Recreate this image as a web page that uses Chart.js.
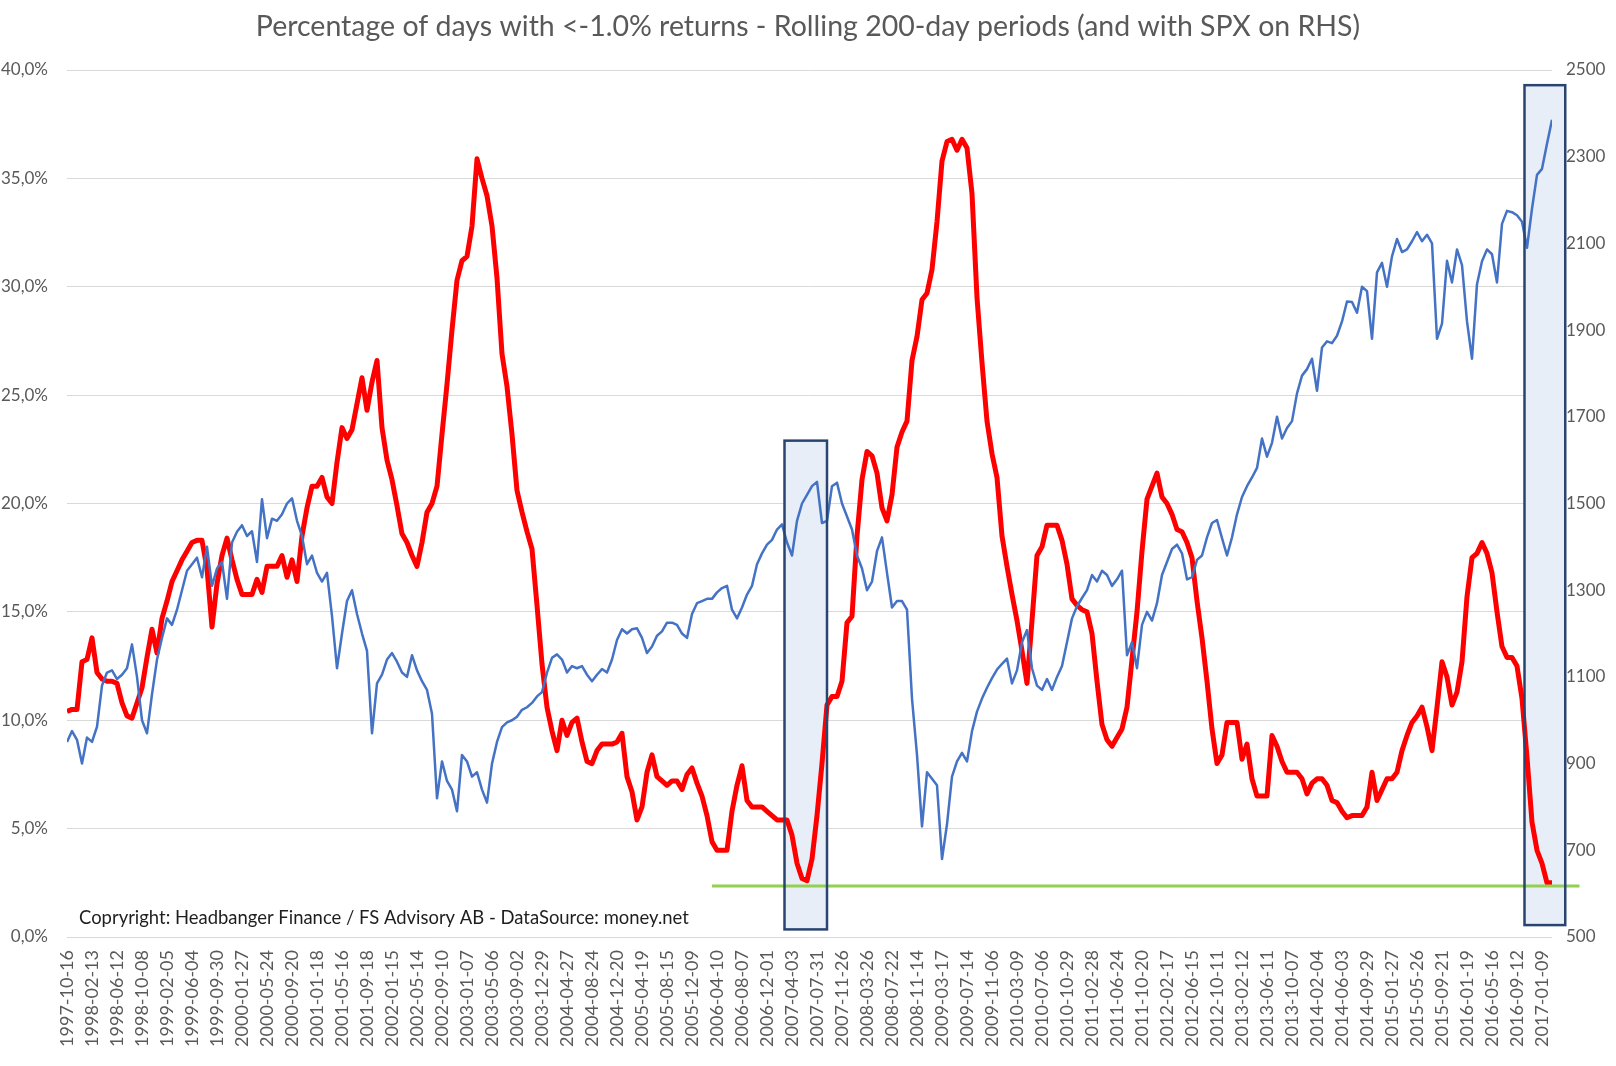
<!DOCTYPE html>
<html><head><meta charset="utf-8">
<script src="https://cdn.jsdelivr.net/npm/chart.js@4.4.1/dist/chart.umd.min.js"></script>
<style>html,body{margin:0;padding:0;background:#fff;}#wrap{width:1616px;height:1066px;}</style>
</head><body><div id="wrap"><canvas id="c" width="1616" height="1066"></canvas></div>
<script>
const titleText = 'Percentage of days with <-1.0% returns - Rolling 200-day periods (and with SPX on RHS)';
const creditText = 'Copryright: Headbanger Finance / FS Advisory AB - DataSource: money.net';

// category tick labels (one every ~82 trading days)
const tickLabels = ['1997-10-16','1998-02-13','1998-06-12','1998-10-08','1999-02-05','1999-06-04','1999-09-30','2000-01-27','2000-05-24','2000-09-20',
'2001-01-18','2001-05-16','2001-09-18','2002-01-15','2002-05-14','2002-09-10','2003-01-07','2003-05-06','2003-09-02','2003-12-29',
'2004-04-27','2004-08-24','2004-12-20','2005-04-19','2005-08-15','2005-12-09','2006-04-10','2006-08-07','2006-12-01','2007-04-03',
'2007-07-31','2007-11-26','2008-03-26','2008-07-22','2008-11-14','2009-03-17','2009-07-14','2009-11-06','2010-03-09','2010-07-06',
'2010-10-29','2011-02-28','2011-06-24','2011-10-20','2012-02-17','2012-06-15','2012-10-11','2013-02-12','2013-06-11','2013-10-07',
'2014-02-04','2014-06-03','2014-09-29','2015-01-27','2015-05-26','2015-09-21','2016-01-19','2016-05-16','2016-09-12','2017-01-09'];

// samples every 1/5 of a tick-label interval
const STEP = 0.2;

// % of days with < -1.0% return, rolling 200 days (left axis)
const redPct = [
10.4,10.5,
10.5,12.7,12.8,13.8,12.2, 11.9,11.8,11.8,11.7,10.8, 10.2,10.1,10.8,11.5,12.9, 14.2,13.1,14.7,15.5,16.4,
16.9,17.4,17.8,18.2,18.3, 18.3,17.0,14.3,16.3,17.6, 18.4,17.4,16.5,15.8,15.8, 15.8,16.5,15.9,17.1,17.1,
17.1,17.6,16.6,17.4,16.4, 18.5,19.8,20.8,20.8,21.2, 20.3,20.0,21.9,23.5,23.0, 23.4,24.6,25.8,24.3,25.6,
26.6,23.5,22.0,21.1,19.9, 18.6,18.2,17.6,17.1,18.2, 19.6,20.0,20.8,23.2,25.5, 28.0,30.3,31.2,31.4,32.8,
35.9,35.0,34.2,32.8,30.4, 26.9,25.4,23.2,20.6,19.6, 18.7,17.9,15.3,12.6,10.6, 9.5,8.6,10.0,9.3,9.9,
10.1,9.0,8.1,8.0,8.6, 8.9,8.9,8.9,9.0,9.4, 7.4,6.7,5.4,6.0,7.6, 8.4,7.4,7.2,7.0,7.2,
7.2,6.8,7.5,7.8,7.1, 6.5,5.6,4.4,4.0,4.0, 4.0,5.8,7.0,7.9,6.3, 6.0,6.0,6.0,5.8,5.6,
5.4,5.4,5.4,4.7,3.4, 2.7,2.6,3.6,5.6,8.0, 10.7,11.1,11.1,11.8,14.5, 14.8,18.5,21.1,22.4,22.2,
21.4,19.8,19.2,20.4,22.6, 23.3,23.8,26.6,27.7,29.4, 29.7,30.8,33.0,35.8,36.7, 36.8,36.3,36.8,36.4,34.3,
29.5,26.5,23.8,22.3,21.2, 18.5,17.1,15.8,14.6,13.2, 11.7,14.6,17.6,18.0,19.0, 19.0,19.0,18.3,17.2,15.6,
15.3,15.1,15.0,14.0,11.8, 9.8,9.1,8.8,9.2,9.6, 10.6,12.8,15.0,17.8,20.2, 20.8,21.4,20.3,20.0,19.5,
18.8,18.7,18.2,17.5,15.5, 13.8,11.8,9.6,8.0,8.4, 9.9,9.9,9.9,8.2,8.9, 7.3,6.5,6.5,6.5,9.3,
8.8,8.1,7.6,7.6,7.6, 7.3,6.6,7.1,7.3,7.3, 7.0,6.3,6.2,5.8,5.5, 5.6,5.6,5.6,6.0,7.6,
6.3,6.8,7.3,7.3,7.6, 8.6,9.3,9.9,10.2,10.6, 9.7,8.6,10.6,12.7,12.0, 10.7,11.3,12.7,15.7,17.5,
17.7,18.2,17.7,16.8,15.0, 13.4,12.9,12.9,12.5,11.0, 8.3,5.3,4.0,3.4,2.5,
2.5];

// S&P 500 (right axis)
const spx = [
950,975,
955,900,960,950,985, 1080,1110,1115,1095,1105, 1120,1175,1100,1000,970, 1060,1140,1190,1235,1220,
1255,1300,1345,1360,1375, 1330,1400,1310,1350,1365, 1280,1410,1435,1450,1425, 1436,1365,1510,1420,1465,
1460,1475,1500,1512,1460, 1425,1360,1380,1340,1320, 1340,1240,1120,1200,1275, 1300,1245,1200,1160,970,
1085,1105,1140,1155,1135, 1110,1100,1150,1115,1090, 1070,1015,820,905,860, 840,790,920,905,870,
880,840,810,900,950, 984,995,1000,1008,1024, 1030,1040,1055,1065,1110, 1144,1152,1140,1110,1125,
1120,1125,1105,1090,1105, 1118,1110,1140,1185,1210, 1200,1210,1212,1190,1155, 1170,1195,1205,1225,1225,
1220,1200,1190,1245,1270, 1275,1280,1280,1295,1305, 1310,1255,1235,1260,1290, 1310,1360,1385,1405,1416,
1440,1452,1410,1380,1460, 1500,1520,1540,1550,1455, 1460,1540,1548,1500,1470, 1440,1380,1350,1300,1320,
1390,1422,1340,1260,1275, 1275,1255,1050,920,755, 880,865,850,680,760, 870,905,925,905,975,
1020,1050,1075,1097,1117, 1130,1142,1085,1115,1180, 1208,1120,1080,1070,1095, 1070,1100,1125,1180,1235,
1263,1282,1300,1335,1320, 1345,1335,1310,1325,1345, 1150,1180,1120,1220,1250, 1230,1270,1335,1365,1395,
1405,1385,1325,1330,1370, 1380,1422,1455,1462,1420, 1380,1422,1475,1515,1540, 1560,1582,1650,1608,1640,
1700,1650,1674,1690,1754, 1795,1810,1834,1760,1860, 1874,1870,1887,1920,1966, 1965,1940,2000,1990,1880,
2033,2055,2000,2070,2110, 2080,2086,2105,2126,2105, 2120,2100,1880,1915,2060, 2010,2086,2050,1920,1834,
2006,2059,2086,2075,2010, 2145,2175,2172,2165,2150, 2090,2180,2258,2272,2330,
2385];

// highlight boxes and reference line (x in tick-label units, y in % on left axis)
const boxes = [{x0:28.7, x1:30.4, y0:0.35, y1:22.9}, {x0:58.3, x1:59.93, y0:0.55, y1:39.3}];
const refLine = {x0:25.8, x1:60.5, y:2.35};

const FONT = 'Lato, "Open Sans", sans-serif';
const GREY = '#595959';

function fitFont(ctx, text, width, weight) {
  ctx.font = (weight||'normal') + ' 100px ' + FONT;
  return 100 * width / ctx.measureText(text).width;
}

const decor = {
  id: 'decor',
  beforeDatasetsDraw(chart) {
    const {ctx, scales:{x, y}} = chart;
    ctx.save();
    ctx.fillStyle = '#E8EEF8';
    boxes.forEach(b => {
      const l = x.getPixelForValue(b.x0), r = x.getPixelForValue(b.x1);
      const t = y.getPixelForValue(b.y1), bt = y.getPixelForValue(b.y0);
      ctx.fillRect(l, t, r - l, bt - t);
    });
    ctx.restore();
  },
  afterDatasetsDraw(chart) {
    const {ctx, scales:{x, y}} = chart;
    ctx.save();
    ctx.strokeStyle = '#92D050';
    ctx.lineWidth = 3;
    ctx.beginPath();
    const gy = y.getPixelForValue(refLine.y);
    ctx.moveTo(x.getPixelForValue(refLine.x0), gy);
    ctx.lineTo(x.getPixelForValue(refLine.x1), gy);
    ctx.stroke();
    ctx.strokeStyle = '#2A4470';
    ctx.lineWidth = 2.5;
    boxes.forEach(b => {
      const l = x.getPixelForValue(b.x0), r = x.getPixelForValue(b.x1);
      const t = y.getPixelForValue(b.y1), bt = y.getPixelForValue(b.y0);
      ctx.strokeRect(l, t, r - l, bt - t);
    });
    ctx.restore();
  },
  afterDraw(chart) {
    const {ctx} = chart;
    ctx.save();
    let s = fitFont(ctx, titleText, 1105);
    ctx.font = s + 'px ' + FONT;
    ctx.fillStyle = GREY;
    ctx.textAlign = 'center';
    ctx.textBaseline = 'middle';
    ctx.fillText(titleText, 808, 27);
    s = fitFont(ctx, creditText, 610);
    ctx.font = s + 'px ' + FONT;
    ctx.fillStyle = '#1E1E1E';
    ctx.textAlign = 'left';
    ctx.fillText(creditText, 79, 918);
    ctx.restore();
  }
};

new Chart(document.getElementById('c'), {
  type: 'line',
  data: {
    datasets: [
      { label: 'SPX', yAxisID: 'y1', data: spx.map((v, k) => ({x: k * STEP, y: v})),
        borderColor: '#4472C4', borderWidth: 2.5, pointRadius: 0, tension: 0, borderJoinStyle: 'round' },
      { label: '% days < -1.0%', yAxisID: 'y', data: redPct.map((v, k) => ({x: k * STEP, y: v})),
        borderColor: '#FF0000', borderWidth: 5, pointRadius: 0, tension: 0, borderJoinStyle: 'round' }
    ]
  },
  options: {
    responsive: false, animation: false, devicePixelRatio: 1,
    layout: { padding: { top: 70, left: 0, right: 0, bottom: 0 } },
    plugins: { legend: { display: false }, title: { display: false }, tooltip: { enabled: false } },
    scales: {
      x: {
        type: 'linear', min: 0, max: 59.4,
        grid: { display: false }, border: { display: false },
        ticks: { stepSize: 1, autoSkip: false, includeBounds: false, minRotation: 90, maxRotation: 90,
          padding: 5, color: GREY, font: { family: FONT, size: 18 },
          callback: v => { const i = Math.round(v); return Math.abs(v - i) < 1e-6 ? tickLabels[i] : ''; } },
        afterFit: s => { s.height = 129; }
      },
      y: {
        position: 'left', min: 0, max: 40,
        grid: { color: '#D9D9D9', lineWidth: 1, drawTicks: false }, border: { display: false },
        ticks: { stepSize: 5, padding: 19, color: GREY, font: { family: FONT, size: 17 },
          callback: v => v.toFixed(1).replace('.', ',') + '%' },
        afterFit: s => { s.width = 67; }
      },
      y1: {
        position: 'right', min: 500, max: 2500,
        grid: { display: false, drawTicks: false }, border: { display: false },
        ticks: { stepSize: 200, padding: 14, color: GREY, font: { family: FONT, size: 17 },
          callback: v => String(v) },
        afterFit: s => { s.width = 64; }
      }
    }
  },
  plugins: [decor]
});
</script></body></html>
